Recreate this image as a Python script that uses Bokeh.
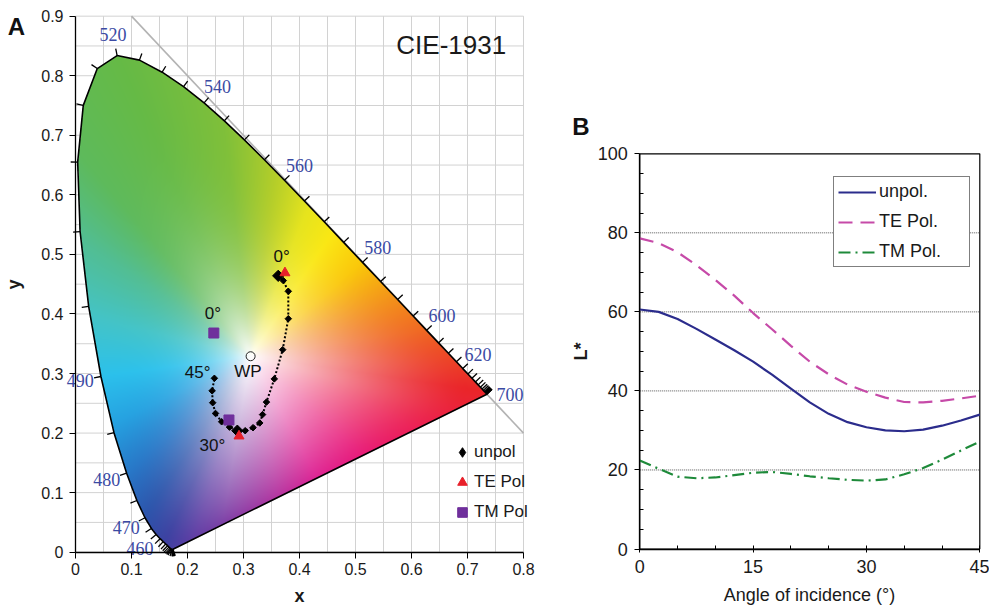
import numpy as np
from bokeh.plotting import figure
from bokeh.models import Range1d, FixedTicker, Legend, LegendItem, Label
from bokeh.layouts import row
from bokeh.embed import file_html
from bokeh.resources import INLINE
from bokeh.core.properties import value

# ---------------- data: panel A (CIE 1931 xy) ----------------
wavelength_nm = [380, 385, 390, 395, 400, 405, 410, 415, 420, 425, 430, 435, 440, 445,
                 450, 455, 460, 465, 470, 475, 480, 485, 490, 495, 500, 505, 510, 515,
                 520, 525, 530, 535, 540, 545, 550, 555, 560, 565, 570, 575, 580, 585,
                 590, 595, 600, 605, 610, 615, 620, 625, 630, 635, 640, 645, 650, 655,
                 660, 665, 670, 675, 680, 685, 690, 695, 700]
locus_x = [0.1741, 0.1740, 0.1738, 0.1736, 0.1733, 0.1730, 0.1726, 0.1721, 0.1714, 0.1703,
           0.1689, 0.1669, 0.1644, 0.1611, 0.1566, 0.1510, 0.1440, 0.1355, 0.1241, 0.1096,
           0.0913, 0.0687, 0.0454, 0.0235, 0.0082, 0.0039, 0.0139, 0.0389, 0.0743, 0.1142,
           0.1547, 0.1929, 0.2296, 0.2658, 0.3016, 0.3373, 0.3731, 0.4087, 0.4441, 0.4788,
           0.5125, 0.5448, 0.5752, 0.6029, 0.6270, 0.6482, 0.6658, 0.6801, 0.6915, 0.7006,
           0.7079, 0.7140, 0.7190, 0.7230, 0.7260, 0.7283, 0.7300, 0.7311, 0.7320, 0.7327,
           0.7334, 0.7340, 0.7344, 0.7346, 0.7347]
locus_y = [0.0050, 0.0050, 0.0049, 0.0049, 0.0048, 0.0048, 0.0048, 0.0048, 0.0051, 0.0058,
           0.0069, 0.0086, 0.0109, 0.0138, 0.0177, 0.0227, 0.0297, 0.0399, 0.0578, 0.0868,
           0.1327, 0.2007, 0.2950, 0.4127, 0.5384, 0.6548, 0.7502, 0.8120, 0.8338, 0.8262,
           0.8059, 0.7816, 0.7543, 0.7243, 0.6923, 0.6589, 0.6245, 0.5896, 0.5547, 0.5202,
           0.4866, 0.4544, 0.4242, 0.3965, 0.3725, 0.3514, 0.3340, 0.3197, 0.3083, 0.2993,
           0.2920, 0.2859, 0.2809, 0.2770, 0.2740, 0.2717, 0.2700, 0.2689, 0.2680, 0.2673,
           0.2666, 0.2660, 0.2656, 0.2654, 0.2653]
labelled_nm = [460, 470, 480, 490, 520, 540, 560, 580, 600, 620, 700]

wp_x = [0.3127]
wp_y = [0.3290]

unpol_x = [0.362, 0.371, 0.380, 0.380, 0.370, 0.355, 0.341, 0.334, 0.329, 0.317, 0.303,
           0.289, 0.275, 0.261, 0.250, 0.245, 0.244, 0.248]
unpol_y = [0.464, 0.456, 0.438, 0.392, 0.340, 0.291, 0.252, 0.231, 0.217, 0.209, 0.204,
           0.204, 0.210, 0.219, 0.233, 0.251, 0.271, 0.292]
unpol_key_x = [0.362, 0.289]
unpol_key_y = [0.464, 0.204]
te_x = [0.374, 0.292]
te_y = [0.469, 0.195]
tm_x = [0.247, 0.274]
tm_y = [0.368, 0.222]

angle_text = ["0°", "0°", "45°", "30°", "WP"]
angle_text_x = [0.368, 0.2455, 0.218, 0.2446, 0.308]
angle_text_y = [0.4965, 0.400, 0.302, 0.179, 0.3026]

x_ticks_A = [0, 0.1, 0.2, 0.3, 0.4, 0.5, 0.6, 0.7, 0.8]
y_ticks_A = [0, 0.1, 0.2, 0.3, 0.4, 0.5, 0.6, 0.7, 0.8, 0.9]
grid_x_A = [i * 0.05 for i in range(17)]
grid_y_A = [i * 0.05 for i in range(19)]

# ---------------- data: panel B (L* vs angle) ----------------
angle_deg = [0, 2.5, 5, 7.5, 10, 12.5, 15, 17.5, 20, 22.5, 25, 27.5, 30, 32.5, 35, 37.5, 40, 42.5, 45]
L_unpol = [60.6, 60.0, 58.2, 55.7, 53.0, 50.3, 47.4, 44.1, 40.6, 37.1, 34.2, 32.1, 30.8,
           30.0, 29.8, 30.2, 31.2, 32.5, 34.0]
L_te = [78.6, 77.4, 75.1, 71.8, 68.1, 64.1, 59.7, 55.6, 51.4, 47.4, 44.2, 41.6, 39.8,
        38.3, 37.2, 37.1, 37.5, 38.1, 38.8]
L_tm = [22.4, 20.3, 18.3, 17.9, 18.1, 18.7, 19.3, 19.5, 19.0, 18.4, 17.9, 17.5, 17.3,
        17.6, 18.9, 20.5, 22.6, 24.9, 27.2]
x_ticks_B = [0, 15, 30, 45]
x_minor_B = [5, 10, 20, 25, 35, 40]
y_ticks_B = [0, 20, 40, 60, 80, 100]
y_minor_B = [5, 10, 15, 25, 30, 35, 45, 50, 55, 65, 70, 75, 85, 90, 95]
y_grid_B = [20, 40, 60, 80]

# ---------------- layout / style ----------------
FONT = "Liberation Sans"
SERIF = "Liberation Serif"
H = 608                      # both canvases
W1, W2 = 569, 420
# panel A: px per unit and where the data origin sits inside its canvas
KX1, KY1 = 560.0, 595.6
OX1, OY1 = 75.0, 551.7
XMAX_A, YMAX_A = 0.8, 0.9
# panel B
KX2, KY2 = 340.0 / 45, 395.2 / 100
OX2, OY2 = 70.3, 548.5

# hue wheel around the white point (direction in degrees -> colour at the border)
hue_deg = [8, 22, 38, 55, 68, 82, 97, 115, 132, 147, 167, 187, 205, 222, 235, 244, 252,
           265, 282, 300, 320, 338, 352]
hue_rgb = [(240, 105, 35), (244, 150, 25), (250, 200, 10), (250, 232, 20), (230, 228, 30),
           (180, 206, 42), (128, 192, 58), (102, 186, 70), (94, 186, 92), (82, 190, 148),
           (68, 196, 200), (44, 193, 236), (38, 162, 225), (40, 120, 200), (45, 85, 172),
           (62, 66, 162), (98, 62, 165), (138, 60, 165), (182, 52, 160), (222, 36, 148),
           (232, 28, 122), (236, 32, 85), (234, 38, 42)]
# how quickly the colour saturates away from white, by direction
sat_deg = [0, 54, 90, 123, 147, 190, 229, 260, 300, 340]
sat_k = [1.5, 2.1, 3.0, 4.0, 4.3, 3.2, 1.8, 0.9, 1.0, 1.3]

# ---------------- colour field of the gamut ----------------
vx = np.array(locus_x)
vy = np.array(locus_y)
wx, wy = wp_x[0], wp_y[0]
nx, ny = 448, 536
gx = (np.arange(nx) + 0.5) * XMAX_A / nx
gy = (np.arange(ny) + 0.5) * YMAX_A / ny
X, Y = np.meshgrid(gx, gy)

inside = np.zeros(X.shape, dtype=bool)
j = len(vx) - 1
with np.errstate(divide="ignore", invalid="ignore"):
    for i in range(len(vx)):
        crosses = (vy[i] > Y) != (vy[j] > Y)
        xint = (vx[j] - vx[i]) * (Y - vy[i]) / (vy[j] - vy[i]) + vx[i]
        inside ^= crosses & (X < xint)
        j = i

seg_x, seg_y = [], []
for i in range(len(vx)):
    k = (i + 1) % len(vx)
    t = np.linspace(0, 1, 40, endpoint=False)
    seg_x.append(vx[i] + (vx[k] - vx[i]) * t)
    seg_y.append(vy[i] + (vy[k] - vy[i]) * t)
bx = np.concatenate(seg_x)
by = np.concatenate(seg_y)
b_ang = np.arctan2(by - wy, bx - wx)
b_rad = np.hypot(bx - wx, by - wy)
order = np.argsort(b_ang)
ang_grid = np.linspace(-np.pi, np.pi, 721)[:-1]
rb_grid = np.interp(ang_grid, b_ang[order], b_rad[order], period=2 * np.pi)
half = 16
kernel = np.ones(2 * half + 1) / (2 * half + 1)
rb_smooth = np.convolve(np.concatenate([rb_grid[-half:], rb_grid, rb_grid[:half]]),
                        kernel, mode="valid")

theta = np.arctan2(Y - wy, X - wx)
rad = np.hypot(X - wx, Y - wy)
rb = np.interp(theta, ang_grid, rb_smooth, period=2 * np.pi)
sat = np.clip(rad / rb, 0, 1)
hd = np.degrees(theta) % 360
kk = np.interp(hd, sat_deg, sat_k, period=360)
f = 1 - (1 - sat) ** kk
hr = np.array(hue_rgb, dtype=float)
chan = [np.interp(hd, hue_deg, hr[:, c], period=360) for c in range(3)]

img = np.zeros((ny, nx), dtype=np.uint32)
view = img.view(dtype=np.uint8).reshape((ny, nx, 4))
for c in range(3):
    view[:, :, c] = np.clip(255 * (1 - f) + chan[c] * f, 0, 255).astype(np.uint8)
view[:, :, 3] = np.where(inside, 255, 0).astype(np.uint8)


def style_axis(ax, size):
    ax.major_label_text_font = FONT
    ax.major_label_text_font_size = size
    ax.major_label_text_color = "#1a1a1a"
    ax.axis_line_color = "black"
    ax.axis_line_width = 1.3
    ax.major_tick_line_color = "black"
    ax.minor_tick_line_color = "black"
    ax.axis_label_text_font = FONT
    ax.axis_label_text_color = "#1a1a1a"


# ---------------- panel A ----------------
p1 = figure(width=W1, height=H, output_backend="svg", toolbar_location=None,
            x_range=Range1d(-OX1 / KX1, (W1 - OX1) / KX1),
            y_range=Range1d(-(H - OY1) / KY1, OY1 / KY1),
            min_border=0, min_border_left=0, min_border_right=0, min_border_top=0,
            min_border_bottom=0)
p1.outline_line_color = None
p1.xgrid.visible = False
p1.ygrid.visible = False

p1.segment(x0=grid_x_A, y0=[0] * len(grid_x_A), x1=grid_x_A, y1=[YMAX_A] * len(grid_x_A),
           line_color="#d2d2d2", line_width=1)
p1.segment(x0=[0] * len(grid_y_A), y0=grid_y_A, x1=[XMAX_A] * len(grid_y_A), y1=grid_y_A,
           line_color="#d2d2d2", line_width=1)

p1.xaxis.fixed_location = 0
p1.yaxis.fixed_location = 0
p1.xaxis.bounds = (0, XMAX_A)
p1.yaxis.bounds = (0, YMAX_A)
for ax, ticks in ((p1.xaxis[0], x_ticks_A), (p1.yaxis[0], y_ticks_A)):
    ax.ticker = FixedTicker(ticks=ticks)
    ax.major_label_overrides = {0: "0"}
    style_axis(ax, "16px")
    ax.major_tick_out = 6
    ax.major_tick_in = 0
    ax.minor_tick_line_color = None
    ax.axis_label_text_font_style = "bold"
    ax.axis_label_text_font_size = "18px"
p1.xaxis.axis_label = "x"
p1.yaxis.axis_label = "y"
p1.xaxis.major_label_standoff = 5
p1.xaxis.axis_label_standoff = 7
p1.yaxis.major_label_standoff = 6
p1.yaxis.axis_label_standoff = 14

# reference line x + y = 1
diag_x = [0.1, XMAX_A]
p1.line(diag_x, [1 - v for v in diag_x], line_color="#b3b3b3", line_width=1.6)

p1.image_rgba(image=[img], x=0, y=0, dw=XMAX_A, dh=YMAX_A)
p1.line(list(vx) + [vx[0]], list(vy) + [vy[0]], line_color="black", line_width=1.6)

# wavelength ticks and labels on the spectral locus
tx = np.gradient(vx * KX1)
ty = np.gradient(vy * KY1)
tn = np.hypot(tx, ty) + 1e-12
nxv, nyv = -ty / tn, tx / tn
TICK = 7.0
p1.segment(x0=vx, y0=vy, x1=vx + nxv * TICK / KX1, y1=vy + nyv * TICK / KY1,
           line_color="black", line_width=1.3)
label_dir = {700: (1.0, 0.0)}
LAB = 21.0
lab_x, lab_y = [], []
for w in labelled_nm:
    i = wavelength_nm.index(w)
    dx, dy = label_dir.get(w, (nxv[i], nyv[i]))
    d = LAB + (2 if w == 700 else 0)
    lab_x.append(vx[i] + dx * d / KX1)
    lab_y.append(vy[i] + dy * d / KY1)
p1.text(x=lab_x, y=lab_y, text=[str(w) for w in labelled_nm], text_font=value(SERIF),
        text_font_size="18px", text_color="#3b4aa3", text_align="center",
        text_baseline="middle")

# measured chromaticities
p1.line(unpol_x, unpol_y, line_color="black", line_width=2, line_dash="2 2")
p1.scatter(unpol_x, unpol_y, marker="square", angle=np.pi / 4, size=4.6,
           fill_color="black", line_color="black")
p1.scatter(unpol_key_x, unpol_key_y, marker="square", angle=np.pi / 4, size=8,
           fill_color="black", line_color="black")
r_te = p1.scatter(te_x, te_y, marker="triangle", size=10, fill_color="#e8202a",
                  line_color="#e8202a")
r_tm = p1.scatter(tm_x, tm_y, marker="square", size=10, fill_color="#6f2f9c",
                  line_color="#6f2f9c")
r_key = p1.scatter(unpol_x, unpol_y, marker="diamond", size=10, fill_color="black",
                   line_color="black", visible=False)
p1.scatter(wp_x, wp_y, marker="circle", size=9, fill_color="white", fill_alpha=0.3,
           line_color="#222222", line_width=1)
p1.text(x=angle_text_x, y=angle_text_y, text=angle_text, text_font=value(FONT),
        text_font_size="17px", text_color="#111111", text_align="center",
        text_baseline="middle")

p1.add_layout(Label(x=0.769, y=0.851, text="CIE-1931", text_font=FONT, text_font_size="26px",
                    text_color="#1a1a1a", text_align="right", text_baseline="middle"))
p1.add_layout(Label(x=-0.1054, y=0.8826, text="A", text_font=FONT, text_font_size="24px",
                    text_font_style="bold", text_color="#111111", text_align="center",
                    text_baseline="middle"))

leg1 = Legend(items=[LegendItem(label="unpol", renderers=[r_key]),
                     LegendItem(label="TE Pol", renderers=[r_te]),
                     LegendItem(label="TM Pol", renderers=[r_tm])],
              location=(450, 84), padding=0, margin=0, spacing=6,
              glyph_width=24, glyph_height=24, label_height=24, label_standoff=-5,
              label_text_font=FONT, label_text_font_size="17px", label_text_color="#1a1a1a",
              background_fill_alpha=0, border_line_color=None, inactive_fill_alpha=0)
p1.add_layout(leg1)

# ---------------- panel B ----------------
p2 = figure(width=W2, height=H, output_backend="svg", toolbar_location=None,
            x_range=Range1d(-OX2 / KX2, (W2 - OX2) / KX2),
            y_range=Range1d(-(H - OY2) / KY2, OY2 / KY2),
            min_border=0, min_border_left=0, min_border_right=0, min_border_top=0,
            min_border_bottom=0)
p2.outline_line_color = None
p2.xgrid.visible = False
p2.ygrid.visible = False
p2.segment(x0=[0] * len(y_grid_B), y0=y_grid_B, x1=[45] * len(y_grid_B), y1=y_grid_B,
           line_color="#555555", line_width=1, line_dash="1 1")
p2.quad(left=[0], right=[45], bottom=[0], top=[100], fill_alpha=0, line_color="black",
        line_width=1.2)

p2.xaxis.fixed_location = 0
p2.yaxis.fixed_location = 0
p2.xaxis.bounds = (0, 45)
p2.yaxis.bounds = (0, 100)
p2.xaxis.ticker = FixedTicker(ticks=x_ticks_B, minor_ticks=x_minor_B)
p2.yaxis.ticker = FixedTicker(ticks=y_ticks_B, minor_ticks=y_minor_B)
for ax in (p2.xaxis[0], p2.yaxis[0]):
    style_axis(ax, "18px")
    ax.axis_label_text_font_size = "18px"
p2.xaxis.major_tick_in = 4
p2.xaxis.major_tick_out = 3
p2.xaxis.minor_tick_in = 4
p2.xaxis.minor_tick_out = 0
p2.yaxis.major_tick_in = 0
p2.yaxis.major_tick_out = 5
p2.yaxis.minor_tick_in = 4
p2.yaxis.minor_tick_out = 0
p2.xaxis.axis_label = "Angle of incidence (°)"
p2.xaxis.axis_label_text_font_style = "normal"
p2.xaxis.major_label_standoff = 8
p2.xaxis.axis_label_standoff = 8
p2.yaxis.axis_label = "L*"
p2.yaxis.axis_label_text_font_style = "bold"
p2.yaxis.major_label_standoff = 7
p2.yaxis.axis_label_standoff = 3

r1 = p2.line(angle_deg, L_unpol, line_color="#2b2c8c", line_width=2.2)
r2 = p2.line(angle_deg, L_te, line_color="#c64aa8", line_width=2.2, line_dash="14 8")
r3 = p2.line(angle_deg, L_tm, line_color="#1e8a3a", line_width=2.2, line_dash="12 5 2 5")

p2.add_layout(Label(x=-7.78, y=106.8, text="B", text_font=FONT, text_font_size="24px",
                    text_font_style="bold", text_color="#111111", text_align="center",
                    text_baseline="middle"))

leg2 = Legend(items=[LegendItem(label="unpol.", renderers=[r1]),
                     LegendItem(label="TE Pol.", renderers=[r2]),
                     LegendItem(label="TM Pol.", renderers=[r3])],
              location=(264, 341), padding=4, margin=0, spacing=9,
              glyph_width=38, glyph_height=18, label_height=18, label_standoff=3,
              label_width=86,
              label_text_font=FONT, label_text_font_size="18px", label_text_color="#1a1a1a",
              background_fill_color="white", background_fill_alpha=1,
              border_line_color="black", border_line_width=1)
p2.add_layout(leg2)

layout = row(p1, p2)
open("out.html", "w").write(file_html(layout, INLINE))
